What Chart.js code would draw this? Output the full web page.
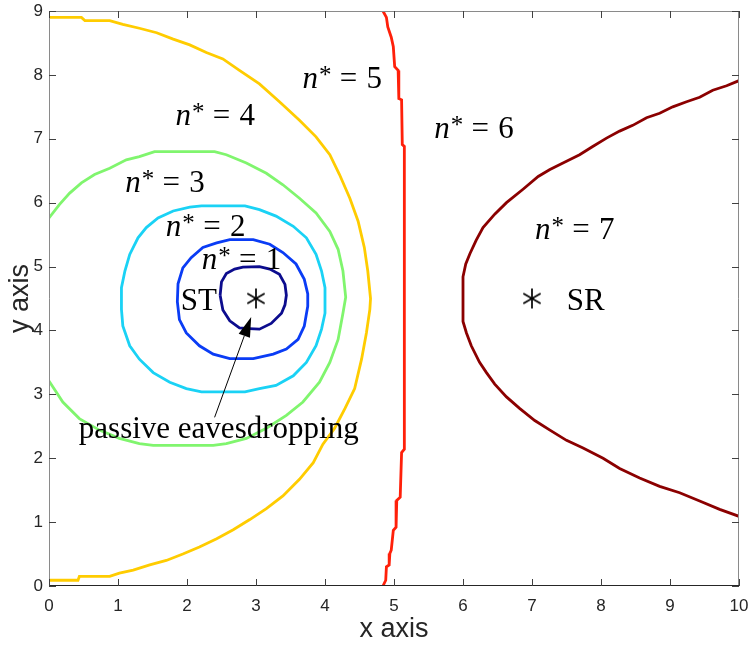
<!DOCTYPE html>
<html>
<head>
<meta charset="utf-8">
<script src="https://cdn.jsdelivr.net/npm/chart.js@4.4.0/dist/chart.umd.min.js"></script>
<style>
  html, body { margin: 0; padding: 0; background: #fff; }
  canvas { display: block; }
</style>
</head>
<body>
<canvas id="contour" width="750" height="646"></canvas>
<script>
// contour boundaries, [x, y] pairs
const level1 = [[2.48,4.55],[2.50,4.76],[2.57,4.89],[2.69,4.96],[2.81,4.99],[3.05,5.00],[3.20,4.96],[3.34,4.88],[3.42,4.72],[3.44,4.55],[3.42,4.40],[3.37,4.27],[3.22,4.11],[3.05,4.02],[2.90,4.03],[2.76,4.04],[2.62,4.15],[2.52,4.32],[2.48,4.55]];
const level2 = [[1.86,4.45],[1.87,4.73],[1.94,4.98],[2.06,5.14],[2.23,5.30],[2.43,5.37],[2.62,5.42],[2.96,5.42],[3.20,5.35],[3.39,5.22],[3.58,5.04],[3.70,4.80],[3.75,4.57],[3.75,4.38],[3.70,4.07],[3.61,3.86],[3.44,3.71],[3.25,3.63],[2.96,3.56],[2.62,3.56],[2.38,3.63],[2.18,3.76],[1.99,3.96],[1.89,4.17],[1.86,4.45]];
const level3 = [[1.05,4.50],[1.05,4.67],[1.10,4.93],[1.17,5.19],[1.29,5.45],[1.41,5.61],[1.58,5.76],[1.80,5.87],[2.04,5.93],[2.21,5.95],[2.84,5.95],[3.05,5.89],[3.29,5.79],[3.54,5.63],[3.73,5.45],[3.87,5.19],[3.95,4.93],[4.00,4.67],[4.00,4.27],[3.95,4.02],[3.87,3.76],[3.73,3.50],[3.54,3.29],[3.29,3.14],[3.05,3.09],[2.84,3.04],[2.21,3.04],[1.99,3.09],[1.75,3.19],[1.51,3.34],[1.31,3.55],[1.17,3.76],[1.07,4.07],[1.05,4.33],[1.05,4.50]];
const level4 = [[0,5.76],[0.15,5.97],[0.30,6.15],[0.47,6.31],[0.66,6.44],[0.88,6.54],[1.12,6.67],[1.31,6.72],[1.53,6.80],[2.40,6.80],[2.57,6.75],[2.86,6.62],[3.15,6.46],[3.39,6.28],[3.63,6.07],[3.87,5.84],[4.07,5.55],[4.19,5.27],[4.26,4.93],[4.30,4.52],[4.26,4.27],[4.19,3.86],[4.07,3.50],[3.92,3.19],[3.68,2.88],[3.44,2.67],[3.15,2.47],[2.86,2.31],[2.57,2.23],[2.38,2.20],[1.51,2.20],[1.31,2.23],[1.02,2.31],[0.73,2.44],[0.44,2.62],[0.20,2.88],[0,3.21]];
const level5 = [[0,8.90],[0.47,8.90],[0.52,8.85],[0.88,8.85],[1.07,8.79],[1.31,8.73],[1.56,8.66],[1.80,8.56],[2.04,8.47],[2.28,8.35],[2.52,8.25],[2.76,8.07],[3.05,7.86],[3.34,7.58],[3.63,7.29],[3.87,7.03],[4.07,6.75],[4.21,6.44],[4.36,6.07],[4.48,5.71],[4.57,5.30],[4.62,4.93],[4.66,4.50],[4.65,4.33],[4.60,3.96],[4.53,3.55],[4.43,3.09],[4.29,2.78],[4.14,2.47],[3.97,2.22],[3.83,1.93],[3.63,1.67],[3.39,1.41],[3.15,1.21],[2.91,1.04],[2.67,0.88],[2.43,0.74],[2.18,0.61],[1.94,0.50],[1.70,0.40],[1.46,0.33],[1.22,0.25],[1.02,0.20],[0.88,0.15],[0.44,0.15],[0.42,0.09],[0,0.09]];
const level6 = [[4.84,9.0],[4.89,8.90],[4.91,8.75],[4.96,8.59],[4.99,8.44],[5.01,8.13],[5.06,8.07],[5.07,7.63],[5.11,7.61],[5.12,6.91],[5.15,6.88],[5.15,4.60],[5.15,2.14],[5.11,2.09],[5.09,1.39],[5.04,1.34],[5.03,0.92],[4.99,0.87],[4.96,0.56],[4.94,0.51],[4.93,0.33],[4.89,0.30],[4.88,0.09],[4.84,0.0]];
const level7 = [[10.0,7.91],[9.82,7.83],[9.62,7.76],[9.43,7.65],[9.24,7.58],[9.04,7.50],[8.85,7.40],[8.66,7.33],[8.46,7.21],[8.27,7.12],[8.08,7.01],[7.88,6.88],[7.69,6.75],[7.50,6.65],[7.26,6.52],[7.09,6.41],[6.87,6.21],[6.63,6.00],[6.46,5.82],[6.29,5.61],[6.19,5.41],[6.10,5.20],[6.04,5.04],[6.00,4.84],[6.00,4.14],[6.05,3.96],[6.12,3.76],[6.24,3.50],[6.34,3.34],[6.46,3.16],[6.63,2.96],[6.82,2.78],[7.04,2.59],[7.26,2.44],[7.50,2.28],[7.74,2.16],[8.03,2.00],[8.27,1.84],[8.56,1.69],[8.85,1.56],[9.14,1.46],[9.43,1.33],[9.72,1.20],[10.0,1.09]];

const levels = [level1, level2, level3, level4, level5, level6, level7];
const levelColors = ['#0c0c8e', '#0a3cf5', '#1ad2f5', '#80f56e', '#ffcc00', '#ff200a', '#8b0000'];

// region labels n* = k (centre x, baseline y)
const regionNums = ['1', '2', '3', '4', '5', '6', '7'];
const regionX = [2.79, 2.27, 1.68, 2.41, 4.25, 6.16, 7.62];
const regionY = [4.96, 5.48, 6.16, 7.22, 7.79, 7.01, 5.43];

// transmitter / receiver
const nodeX = [3, 7];
const nodeY = [4.5, 4.5];
const nodeNames = ['ST', 'SR'];
const nodeNameX = [2.17, 7.78];
const nodeNameY = [4.32, 4.32];

const noteText = 'passive eavesdropping';
const noteX = 2.46, noteY = 2.32;
const arrowFrom = [2.40, 2.64];
const arrowTo = [2.93, 4.21];

const xTicks = [0, 1, 2, 3, 4, 5, 6, 7, 8, 9, 10];
const yTicks = [0, 1, 2, 3, 4, 5, 6, 7, 8, 9];

const SERIF = '"Liberation Serif", "Times New Roman", serif';
const SANS = '"Liberation Sans", Arial, Helvetica, sans-serif';

function asterisk(r) {
  const c = document.createElement('canvas');
  const s = 2 * r + 4;
  c.width = s; c.height = s;
  const g = c.getContext('2d');
  g.strokeStyle = '#000';
  g.lineWidth = 1.7;
  g.translate(s / 2, s / 2);
  for (let k = 0; k < 3; k++) {
    const a = Math.PI / 2 + k * Math.PI / 3;
    g.beginPath();
    g.moveTo(r * Math.cos(a), r * Math.sin(a));
    g.lineTo(-r * Math.cos(a), -r * Math.sin(a));
    g.stroke();
  }
  return c;
}

function drawNStar(ctx, cx, by, k) {
  const fs = 31;
  const it = 'italic ' + fs + 'px ' + SERIF;
  const up = fs + 'px ' + SERIF;
  const sup = '25px ' + SERIF;
  ctx.font = it; const wn = ctx.measureText('n').width;
  ctx.font = sup; const ws = ctx.measureText('*').width;
  ctx.font = up; const we = ctx.measureText('=').width; const wk = ctx.measureText(k).width;
  const gap = fs * 0.3;
  let x0 = cx - (wn + ws + gap + we + gap + wk) / 2;
  ctx.textAlign = 'left';
  ctx.textBaseline = 'alphabetic';
  ctx.font = it; ctx.fillText('n', x0, by); x0 += wn + 1;
  ctx.font = sup; ctx.fillText('*', x0, by - 5); x0 += ws - 1 + gap;
  ctx.font = up; ctx.fillText('=', x0, by); x0 += we + gap;
  ctx.fillText(k, x0, by);
}

const annotations = {
  id: 'annotations',
  afterDatasetsDraw(chart) {
    const { ctx, scales: { x, y } } = chart;
    ctx.save();
    ctx.fillStyle = '#000';
    regionNums.forEach((k, i) => {
      drawNStar(ctx, x.getPixelForValue(regionX[i]), y.getPixelForValue(regionY[i]), k);
    });
    ctx.font = '31px ' + SERIF;
    ctx.textAlign = 'center';
    ctx.textBaseline = 'alphabetic';
    nodeNames.forEach((n, i) => {
      ctx.fillText(n, x.getPixelForValue(nodeNameX[i]), y.getPixelForValue(nodeNameY[i]));
    });
    ctx.fillText(noteText, x.getPixelForValue(noteX), y.getPixelForValue(noteY));

    // arrow
    const x1 = x.getPixelForValue(arrowFrom[0]), y1 = y.getPixelForValue(arrowFrom[1]);
    const x2 = x.getPixelForValue(arrowTo[0]), y2 = y.getPixelForValue(arrowTo[1]);
    const ang = Math.atan2(y2 - y1, x2 - x1);
    const hl = 20, hw = 6;
    const bx = x2 - hl * Math.cos(ang), by = y2 - hl * Math.sin(ang);
    ctx.strokeStyle = '#000';
    ctx.lineWidth = 1;
    ctx.beginPath();
    ctx.moveTo(x1, y1);
    ctx.lineTo(bx, by);
    ctx.stroke();
    ctx.beginPath();
    ctx.moveTo(x2, y2);
    ctx.lineTo(bx + hw * Math.sin(ang), by - hw * Math.cos(ang));
    ctx.lineTo(bx - hw * Math.sin(ang), by + hw * Math.cos(ang));
    ctx.closePath();
    ctx.fill();
    ctx.restore();
  },
  afterDraw(chart) {
    const { ctx, chartArea: a, scales: { x, y } } = chart;
    ctx.save();
    ctx.lineWidth = 1;
    ctx.strokeStyle = '#8a8a8a';
    ctx.beginPath();
    ctx.moveTo(a.left + 0.5, a.bottom);
    ctx.lineTo(a.left + 0.5, a.top + 0.5);
    ctx.lineTo(a.right - 0.5, a.top + 0.5);
    ctx.lineTo(a.right - 0.5, a.bottom);
    ctx.stroke();
    ctx.strokeStyle = '#262626';
    ctx.beginPath();
    ctx.moveTo(a.left, a.bottom - 0.5);
    ctx.lineTo(a.right, a.bottom - 0.5);
    ctx.stroke();
    // inward ticks on all four sides
    const tl = 7;
    ctx.strokeStyle = '#404040';
    ctx.beginPath();
    xTicks.forEach(v => {
      const px = Math.round(x.getPixelForValue(v)) + 0.5;
      ctx.moveTo(px, a.bottom); ctx.lineTo(px, a.bottom - tl);
      ctx.moveTo(px, a.top); ctx.lineTo(px, a.top + tl);
    });
    yTicks.forEach(v => {
      const py = Math.round(y.getPixelForValue(v)) + 0.5;
      ctx.moveTo(a.left, py); ctx.lineTo(a.left + tl, py);
      ctx.moveTo(a.right, py); ctx.lineTo(a.right - tl, py);
    });
    ctx.stroke();
    ctx.restore();
  }
};

const datasets = levels.map((pts, i) => ({
  label: 'n* = ' + (i + 1),
  data: pts.map(p => ({ x: p[0], y: p[1] })),
  showLine: true,
  borderColor: levelColors[i],
  borderWidth: 2.8,
  pointRadius: 0,
  tension: 0,
  fill: false
}));

datasets.push({
  label: 'nodes',
  data: nodeX.map((v, i) => ({ x: v, y: nodeY[i] })),
  showLine: false,
  pointStyle: asterisk(10),
  pointRadius: 10
});

new Chart(document.getElementById('contour'), {
  type: 'scatter',
  data: { datasets: datasets },
  options: {
    responsive: false,
    animation: false,
    layout: { padding: { top: 7, right: 11, left: 0, bottom: 0 } },
    plugins: { legend: { display: false }, tooltip: { enabled: false } },
    scales: {
      x: {
        type: 'linear',
        min: 0, max: 10,
        grid: { display: false, drawTicks: false },
        border: { display: false },
        ticks: { stepSize: 1, padding: 10, color: '#262626', font: { family: SANS, size: 17 } },
        title: { display: true, text: 'x axis', color: '#262626', font: { family: SANS, size: 27 }, padding: { top: 0, bottom: 0 } },
        afterFit(scale) { scale.height = 60; scale.paddingLeft = 0; scale.paddingRight = 0; }
      },
      y: {
        type: 'linear',
        min: 0, max: 9,
        grid: { display: false, drawTicks: false },
        border: { display: false },
        ticks: { stepSize: 1, padding: 6, color: '#262626', font: { family: SANS, size: 17 } },
        title: { display: true, text: 'y axis', color: '#262626', font: { family: SANS, size: 27 }, padding: { top: 4, bottom: 0 } },
        afterFit(scale) { scale.width = 49; scale.paddingTop = 0; scale.paddingBottom = 0; }
      }
    }
  },
  plugins: [annotations]
});
</script>
</body>
</html>
